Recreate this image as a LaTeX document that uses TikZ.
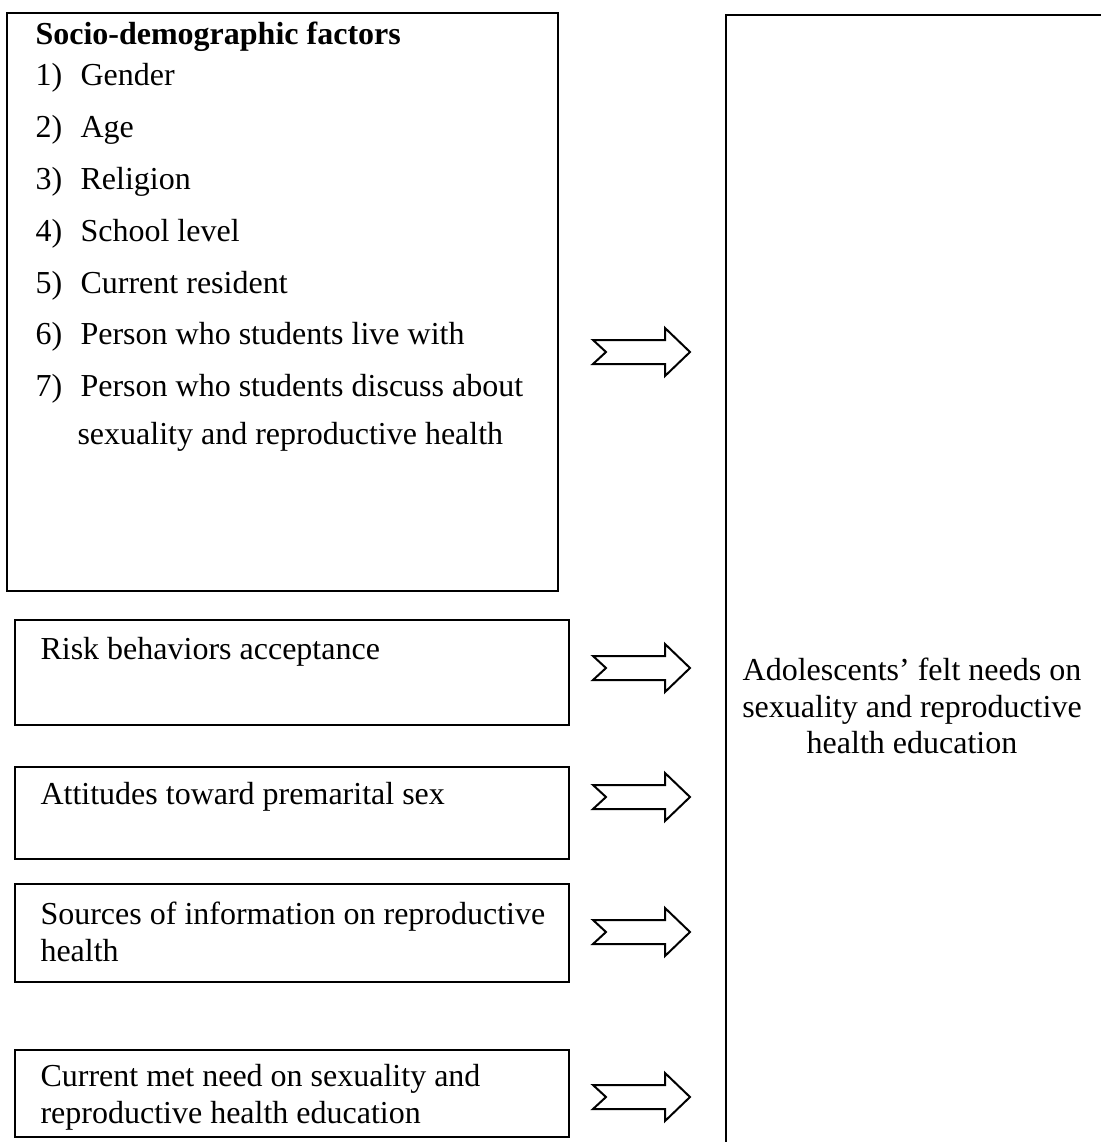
\documentclass[tikz,border=0pt]{standalone}
\usepackage{fontspec}
\setmainfont{Liberation Serif}
\usepackage{tikz}
\def\fatarrow{-- ++(-13,-12) -- ++(72,0) -- ++(0,-12) -- ++(25,24) -- ++(-25,24) -- ++(0,-12) -- ++(-72,0) -- cycle}
\def\num#1{\makebox[16.9pt][l]{#1)}}
\def\dbox{\draw[line width=0.75pt]}

\begin{document}
\begin{tikzpicture}[x=0.375pt,y=-0.375pt,
    txt/.style={inner sep=0pt,anchor=west,align=left,font=\fontsize{12}{13.8}\selectfont},
    fat/.style={line width=0.75pt,line join=miter}]
  \useasboundingbox (0,0) rectangle (1100,1142);
  \draw[line width=1.1pt] (7,13) rectangle (558,591);
  \node[txt,font=\fontsize{12}{13.8}\selectfont\bfseries] (head) at (35,37) {Socio-demographic factors};
  \node[txt] (item1) at (35,78)  {\num{1}Gender};
  \node[txt] (item2) at (35,130) {\num{2}Age};
  \node[txt] (item3) at (35,182) {\num{3}Religion};
  \node[txt] (item4) at (35,234) {\num{4}School level};
  \node[txt] (item5) at (35,286) {\num{5}Current resident};
  \node[txt] (item6) at (35,337) {\num{6}Person who students live with};
  \node[txt] (item7) at (35,389) {\num{7}Person who students discuss about};
  \node[txt] (item7b) at (77,437) {sexuality and reproductive health};
  \dbox (15,620) rectangle (569,725);
  \node[txt] (risk) at (40,652) {Risk behaviors acceptance};
  \dbox (15,767) rectangle (569,859);
  \node[txt] (attit) at (40,797) {Attitudes toward premarital sex};
  \dbox (15,884) rectangle (569,982);
  \node[txt] (source) at (40,932) {Sources of information on reproductive\\health};
  \dbox (15,1050) rectangle (569,1137);
  \node[txt] (metneed) at (40,1097) {Current met need on sexuality and\\reproductive health education};
  \draw[line width=1.1pt] (726,1160) -- (726,15) -- (1120,15);
  \node[txt,anchor=center,align=center] (felt) at (912,706) {Adolescents’ felt needs on\\sexuality and reproductive\\health education};
  \draw[fat] (606,352) \fatarrow;
  \draw[fat] (606,668) \fatarrow;
  \draw[fat] (606,797) \fatarrow;
  \draw[fat] (606,932) \fatarrow;
  \draw[fat] (606,1097) \fatarrow;
\end{tikzpicture}
\end{document}
